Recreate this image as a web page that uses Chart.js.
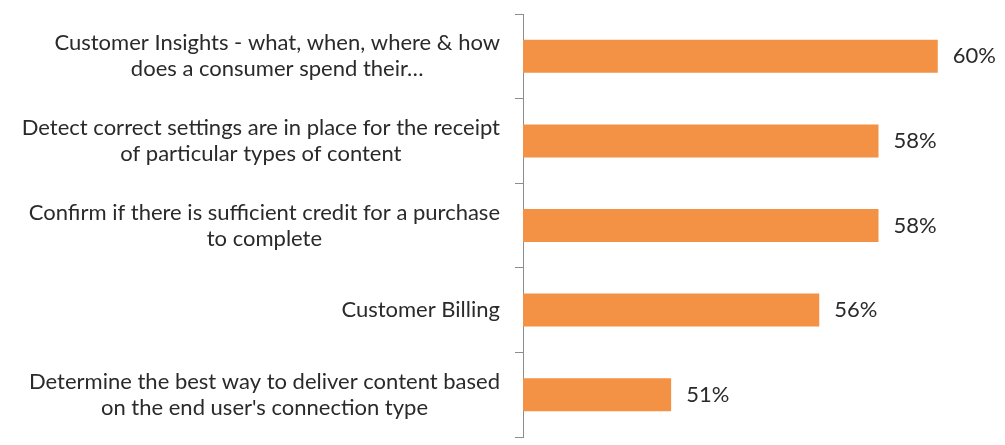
<!DOCTYPE html>
<html>
<head>
<meta charset="utf-8">
<script src="https://cdn.jsdelivr.net/npm/chart.js@4/dist/chart.umd.min.js"></script>
<style>
  html, body { margin: 0; padding: 0; background: #fff; }
  #wrap { width: 1005px; height: 445px; }
</style>
</head>
<body>
<div id="wrap"><canvas id="chart"></canvas></div>
<script>
// ── Data ─────────────────────────────────────
const CATEGORIES = [
  ['Customer Insights - what, when, where & how', 'does a consumer spend their\u2026'],
  ['Detect correct settings are in place for the receipt', 'of particular types of content'],
  ['Confirm if there is sufficient credit for a purchase', 'to complete'],
  ['Customer Billing'],
  ['Determine the best way to deliver content based', "on the end user's connection type"]
];
const VALUES = [60, 58, 58, 56, 51];
const X_MIN = 46;
const X_MAX = 62;

const FONT = '22px Lato, "Open Sans", sans-serif';
const TEXT = '#2a2a2a';

// ── Category labels: block right-aligned, lines centred ──
const labelPlugin = {
  id: 'blockLabels',
  afterDraw(chart) {
    const ctx = chart.ctx;
    const y = chart.scales.y;
    const right = y.right - 23;
    const lineH = 26;
    ctx.save();
    ctx.font = FONT;
    ctx.fillStyle = TEXT;
    ctx.textAlign = 'center';
    ctx.textBaseline = 'middle';
    CATEGORIES.forEach((lines, i) => {
      const w = Math.max(...lines.map(l => ctx.measureText(l).width));
      const cx = right - w / 2;
      const cy = y.getPixelForValue(i);
      const top = cy - (lines.length - 1) * lineH / 2;
      lines.forEach((l, j) => ctx.fillText(l, cx, top + j * lineH));
    });
    ctx.restore();
  }
};

// ── Value labels to the right of bars ───────
const valuePlugin = {
  id: 'valueLabels',
  afterDatasetsDraw(chart) {
    const ctx = chart.ctx;
    const meta = chart.getDatasetMeta(0);
    ctx.save();
    ctx.font = FONT;
    ctx.fillStyle = TEXT;
    ctx.textAlign = 'left';
    ctx.textBaseline = 'middle';
    meta.data.forEach((bar, i) => {
      ctx.fillText(VALUES[i] + '%', bar.x + 15, bar.y);
    });
    ctx.restore();
  }
};

new Chart(document.getElementById('chart'), {
  type: 'bar',
  data: {
    labels: CATEGORIES.map(c => c.join(' ')),
    datasets: [{
      data: VALUES,
      backgroundColor: '#F39245',
      borderWidth: 0,
      categoryPercentage: 1,
      barPercentage: 0.39
    }]
  },
  options: {
    indexAxis: 'y',
    responsive: true,
    maintainAspectRatio: false,
    animation: false,
    layout: { padding: { top: 14, bottom: 8, right: 8, left: 0 } },
    plugins: {
      legend: { display: false },
      tooltip: { enabled: false }
    },
    scales: {
      x: {
        display: false,
        min: X_MIN,
        max: X_MAX
      },
      y: {
        afterFit(scale) { scale.width = 523; },
        ticks: { display: false },
        grid: {
          offset: true,
          drawOnChartArea: false,
          drawTicks: true,
          tickLength: 8,
          color: '#8c8c8c',
          lineWidth: 1
        },
        border: { display: true, color: '#8c8c8c', width: 1 }
      }
    }
  },
  plugins: [labelPlugin, valuePlugin]
});
</script>
</body>
</html>
